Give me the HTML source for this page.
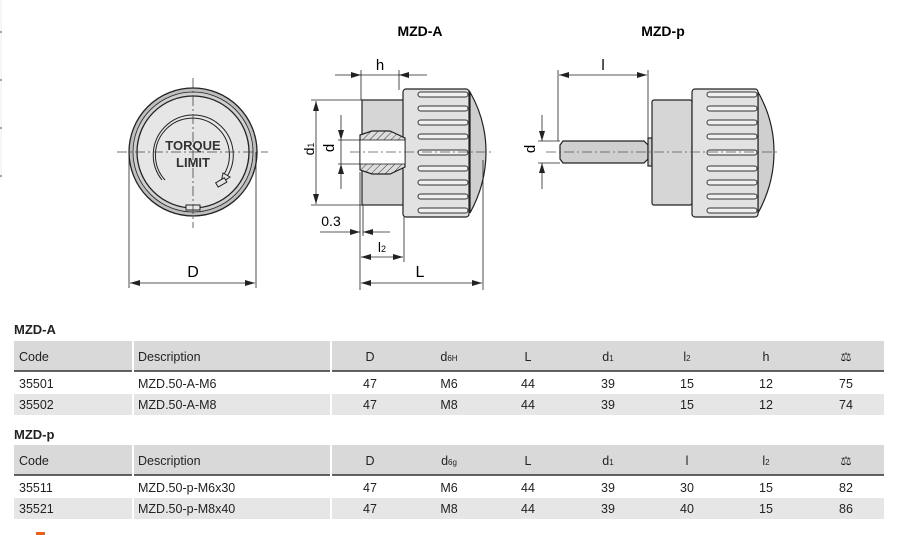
<!DOCTYPE html>
<html><head><meta charset="utf-8"><style>
html,body{margin:0;padding:0;background:#fff;width:908px;height:535px;overflow:hidden}
svg{display:block}
text{font-family:"Liberation Sans",sans-serif}
</style></head><body>
<svg width="908" height="535" viewBox="0 0 908 535" xmlns="http://www.w3.org/2000/svg">
<defs>
<marker id="a" viewBox="0 0 10 6" refX="10" refY="3" markerWidth="10" markerHeight="6" orient="auto-start-reverse" markerUnits="userSpaceOnUse"><path d="M0,0L10,3L0,6z" fill="#222"/></marker>
<pattern id="h" width="5" height="5" patternUnits="userSpaceOnUse" patternTransform="rotate(45)"><rect width="5" height="5" fill="#ddd"/><line x1="0" y1="0" x2="0" y2="5" stroke="#333" stroke-width="1"/></pattern>
</defs>
<g stroke="#eee" stroke-width="1"><line x1="1" y1="0" x2="1" y2="180"/></g>
<g stroke="#555" stroke-width="1"><line x1="0" y1="32" x2="2" y2="32"/><line x1="0" y1="80" x2="2" y2="80"/><line x1="0" y1="128" x2="2" y2="128"/><line x1="0" y1="176" x2="2" y2="176"/></g>
<text x="420" y="36" font-size="14" font-weight="bold" text-anchor="middle">MZD-A</text>
<text x="663" y="36" font-size="14" font-weight="bold" text-anchor="middle">MZD-p</text>

<g stroke="#222" fill="none">
<circle cx="193" cy="152" r="64" fill="#bdbdbd" stroke-width="1.3"/>
<circle cx="193" cy="152" r="60" fill="#cfcfcf" stroke-width="0.8"/>
<circle cx="193" cy="152" r="56" fill="#e6e6e6" stroke-width="1.3"/>
<path d="M162,180 A40,40 0 1 1 226,178" stroke-width="1"/>
<path d="M165,180 A37,37 0 1 1 223,176" stroke-width="1"/>
<path d="M223,173 L230,177 L221,183 Z" fill="#e6e6e6"/>
<rect x="216" y="180" width="10" height="5" transform="rotate(-30 221 182)" fill="#e6e6e6"/>
<rect x="186" y="205" width="14" height="5" fill="#e6e6e6"/>
</g>
<text x="193" y="150" font-size="13" font-weight="bold" text-anchor="middle" fill="#333">TORQUE</text>
<text x="193" y="167" font-size="13" font-weight="bold" text-anchor="middle" fill="#333">LIMIT</text>
<g stroke="#444" stroke-width="0.8" stroke-dasharray="10,3,2,3">
<line x1="117" y1="152" x2="268" y2="152"/><line x1="193" y1="78" x2="193" y2="228"/>
</g>
<g stroke="#222" stroke-width="0.8">
<line x1="129" y1="152" x2="129" y2="288"/><line x1="256" y1="152" x2="256" y2="288"/>
<line x1="130" y1="283" x2="255" y2="283" marker-start="url(#a)" marker-end="url(#a)"/>
</g>
<text x="193" y="277" font-size="16" text-anchor="middle">D</text>

<g stroke="#222" stroke-width="1.2">
<rect x="362" y="100" width="42" height="105" fill="#d6d6d6"/>
<path d="M470,92 Q486,120 486,152 Q486,184 470,213 Z" fill="#cfcfcf"/>
<rect x="403" y="89" width="66" height="128" rx="3" fill="#e2e2e2"/>
<path d="M360,135 L372,131 L390,131 L405,138 L405,167 L390,174 L372,174 L360,170 Z" fill="url(#h)"/>
<rect x="360" y="140" width="45" height="24" fill="#fff" stroke-width="0.8"/>
</g>
<g stroke="#333" stroke-width="1" fill="#f0f0f0">
<rect x="418" y="92" width="50" height="5" rx="2.5"/>
<rect x="418" y="106" width="50" height="5" rx="2.5"/>
<rect x="418" y="120" width="50" height="5" rx="2.5"/>
<rect x="418" y="134" width="50" height="5" rx="2.5"/>
<rect x="418" y="150" width="50" height="5" rx="2.5"/>
<rect x="418" y="166" width="50" height="5" rx="2.5"/>
<rect x="418" y="180" width="50" height="5" rx="2.5"/>
<rect x="418" y="194" width="50" height="5" rx="2.5"/>
<rect x="418" y="208" width="50" height="5" rx="2.5"/>
</g>
<line x1="350" y1="152" x2="494" y2="152" stroke="#555" stroke-width="0.8" stroke-dasharray="10,3,2,3"/>
<g stroke="#222" stroke-width="0.8" fill="none">
<line x1="361" y1="70" x2="361" y2="100"/><line x1="399" y1="70" x2="399" y2="90"/>
<line x1="335" y1="75" x2="361" y2="75" marker-end="url(#a)"/>
<line x1="427" y1="75" x2="399" y2="75" marker-end="url(#a)"/>
<line x1="361" y1="75" x2="399" y2="75"/>
<line x1="311" y1="100" x2="362" y2="100"/><line x1="311" y1="205" x2="362" y2="205"/>
<line x1="316" y1="101" x2="316" y2="204" marker-start="url(#a)" marker-end="url(#a)"/>
<line x1="338" y1="140" x2="360" y2="140"/><line x1="338" y1="164" x2="360" y2="164"/>
<line x1="341" y1="115" x2="341" y2="140" marker-end="url(#a)"/>
<line x1="341" y1="189" x2="341" y2="164" marker-end="url(#a)"/>
<line x1="341" y1="140" x2="341" y2="164"/>
<line x1="360" y1="172" x2="360" y2="290"/><line x1="363" y1="205" x2="363" y2="236"/>
<line x1="320" y1="232" x2="360" y2="232" marker-end="url(#a)"/>
<line x1="390" y1="232" x2="363" y2="232" marker-end="url(#a)"/>
<line x1="404" y1="217" x2="404" y2="262"/>
<line x1="361" y1="257" x2="403" y2="257" marker-start="url(#a)" marker-end="url(#a)"/>
<line x1="483" y1="160" x2="483" y2="290"/>
<line x1="361" y1="283" x2="482" y2="283" marker-start="url(#a)" marker-end="url(#a)"/>
</g>
<text x="380" y="70" font-size="15" text-anchor="middle">h</text>
<text x="313" y="158" font-size="14" text-anchor="middle" transform="rotate(-90 309 153)">d<tspan font-size="9">1</tspan></text>
<text x="337" y="153" font-size="15" text-anchor="middle" transform="rotate(-90 333 152)">d</text>
<text x="331" y="226" font-size="14" text-anchor="middle">0.3</text>
<text x="382" y="252" font-size="14" text-anchor="middle">l<tspan font-size="9">2</tspan></text>
<text x="420" y="277" font-size="16" text-anchor="middle">L</text>

<g stroke="#222" stroke-width="1.2">
<path d="M560,145 L563,141 L644,141 L648,145 L648,159 L644,163 L563,163 L560,159 Z" fill="#cfcfcf"/>
<rect x="648" y="138" width="4" height="28" fill="#ccc"/>
<rect x="652" y="100" width="40" height="105" rx="2" fill="#d6d6d6"/>
<path d="M758,92 Q774,120 774,152 Q774,184 758,213 Z" fill="#cfcfcf"/>
<rect x="692" y="89" width="66" height="128" rx="3" fill="#e2e2e2"/>
</g>
<g stroke="#333" stroke-width="1" fill="#f0f0f0">
<rect x="707" y="92" width="50" height="5" rx="2.5"/>
<rect x="707" y="106" width="50" height="5" rx="2.5"/>
<rect x="707" y="120" width="50" height="5" rx="2.5"/>
<rect x="707" y="134" width="50" height="5" rx="2.5"/>
<rect x="707" y="150" width="50" height="5" rx="2.5"/>
<rect x="707" y="166" width="50" height="5" rx="2.5"/>
<rect x="707" y="180" width="50" height="5" rx="2.5"/>
<rect x="707" y="194" width="50" height="5" rx="2.5"/>
<rect x="707" y="208" width="50" height="5" rx="2.5"/>
</g>
<line x1="546" y1="152" x2="780" y2="152" stroke="#555" stroke-width="0.8" stroke-dasharray="10,3,2,3"/>
<g stroke="#222" stroke-width="0.8" fill="none">
<line x1="558" y1="70" x2="558" y2="141"/><line x1="648" y1="70" x2="648" y2="138"/>
<line x1="559" y1="75" x2="647" y2="75" marker-start="url(#a)" marker-end="url(#a)"/>
<line x1="538" y1="141" x2="560" y2="141"/><line x1="538" y1="163" x2="560" y2="163"/>
<line x1="542" y1="115" x2="542" y2="141" marker-end="url(#a)"/>
<line x1="542" y1="189" x2="542" y2="163" marker-end="url(#a)"/>
</g>
<text x="603" y="70" font-size="15" text-anchor="middle">l</text>
<text x="537" y="153" font-size="15" text-anchor="middle" transform="rotate(-90 534 152)">d</text>

<g font-size="12.5" fill="#222">
<text x="14" y="334" font-weight="bold" font-size="13">MZD-A</text>
<rect x="14" y="341" width="870" height="30" fill="#d9d9da"/>
<line x1="14" y1="371" x2="884" y2="371" stroke="#333" stroke-width="1.5"/>
<rect x="14" y="394" width="870" height="21" fill="#e6e6e7"/>
<g stroke="#fff" stroke-width="2"><line x1="133" y1="341" x2="133" y2="415"/><line x1="331" y1="341" x2="331" y2="415"/></g>
<text x="19" y="361">Code</text><text x="138" y="361">Description</text>
<g text-anchor="middle">
<text x="370" y="361">D</text><text x="449" y="361">d<tspan font-size="8">6H</tspan></text><text x="528" y="361">L</text><text x="608" y="361">d<tspan font-size="8">1</tspan></text><text x="687" y="361">l<tspan font-size="8">2</tspan></text><text x="766" y="361">h</text><text x="846" y="361">⚖</text>
</g>
<text x="19" y="388">35501</text><text x="138" y="388">MZD.50-A-M6</text>
<g text-anchor="middle"><text x="370" y="388">47</text><text x="449" y="388">M6</text><text x="528" y="388">44</text><text x="608" y="388">39</text><text x="687" y="388">15</text><text x="766" y="388">12</text><text x="846" y="388">75</text></g>
<text x="19" y="409">35502</text><text x="138" y="409">MZD.50-A-M8</text>
<g text-anchor="middle"><text x="370" y="409">47</text><text x="449" y="409">M8</text><text x="528" y="409">44</text><text x="608" y="409">39</text><text x="687" y="409">15</text><text x="766" y="409">12</text><text x="846" y="409">74</text></g>

<text x="14" y="439" font-weight="bold" font-size="13">MZD-p</text>
<rect x="14" y="445" width="870" height="30" fill="#d9d9da"/>
<line x1="14" y1="475" x2="884" y2="475" stroke="#333" stroke-width="1.5"/>
<rect x="14" y="498" width="870" height="21" fill="#e6e6e7"/>
<g stroke="#fff" stroke-width="2"><line x1="133" y1="445" x2="133" y2="519"/><line x1="331" y1="445" x2="331" y2="519"/></g>
<text x="19" y="465">Code</text><text x="138" y="465">Description</text>
<g text-anchor="middle">
<text x="370" y="465">D</text><text x="449" y="465">d<tspan font-size="8">6g</tspan></text><text x="528" y="465">L</text><text x="608" y="465">d<tspan font-size="8">1</tspan></text><text x="687" y="465">l</text><text x="766" y="465">l<tspan font-size="8">2</tspan></text><text x="846" y="465">⚖</text>
</g>
<text x="19" y="492">35511</text><text x="138" y="492">MZD.50-p-M6x30</text>
<g text-anchor="middle"><text x="370" y="492">47</text><text x="449" y="492">M6</text><text x="528" y="492">44</text><text x="608" y="492">39</text><text x="687" y="492">30</text><text x="766" y="492">15</text><text x="846" y="492">82</text></g>
<text x="19" y="513">35521</text><text x="138" y="513">MZD.50-p-M8x40</text>
<g text-anchor="middle"><text x="370" y="513">47</text><text x="449" y="513">M8</text><text x="528" y="513">44</text><text x="608" y="513">39</text><text x="687" y="513">40</text><text x="766" y="513">15</text><text x="846" y="513">86</text></g>
</g>
<rect x="36" y="532" width="9" height="3" fill="#e8601c"/>
</svg>
</body></html>
